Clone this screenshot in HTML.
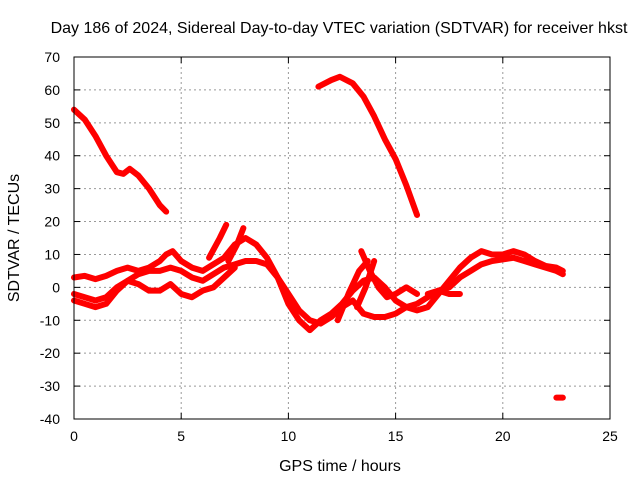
<!DOCTYPE html>
<html><head><meta charset="utf-8"><style>
body{margin:0;background:#fff;font-family:"Liberation Sans",sans-serif}
svg text{font-family:"Liberation Sans",sans-serif;font-size:14px;fill:#000}
svg text.big{font-size:16px}
</style></head><body>
<svg id="chart" width="640" height="480">
<text class="big" x="339" y="33" text-anchor="middle">Day 186 of 2024, Sidereal Day-to-day VTEC variation (SDTVAR) for receiver hkst</text>
<text class="big" x="340" y="471" text-anchor="middle">GPS time / hours</text>
<text class="big" transform="translate(19,238) rotate(-90)" text-anchor="middle">SDTVAR / TECUs</text>
<g id="grid"></g><g id="series"></g><g id="axes"></g>
</svg>
<script>
const xTicks=[0,5,10,15,20,25];
const yTicks=[-40,-30,-20,-10,0,10,20,30,40,50,60,70];
const arc1=[[0,54],[0.5,51],[1,46],[1.5,40],[2,35],[2.3,34.5],[2.6,36],[3,34],[3.5,30],[4,25],[4.3,23]];
const arc2=[[11.4,61],[12,63],[12.4,64],[13,62],[13.5,58],[14,52],[14.5,45],[15,39],[15.5,31],[16,22]];
const arc3=[[0,3],[0.5,3.5],[1,2.5],[1.5,3.5],[2,5],[2.5,6],[3,5],[3.5,6],[4,8],[4.3,10],[4.6,11],[5,8],[5.5,6],[6,5],[6.5,7],[7,9],[7.5,13],[8,15],[8.5,13],[9,9],[9.5,3],[10,-5],[10.5,-10],[11,-13],[11.5,-10],[12,-8],[12.5,-5],[13,-1],[13.5,2],[14,3],[14.5,0],[15,-4],[15.5,-6],[16,-7],[16.5,-6],[17,-2],[17.5,2],[18,6],[18.5,9],[19,11],[19.5,10],[20,10],[20.5,11],[21,10],[21.5,8],[22,6.5],[22.5,6],[22.8,5]];
const arc4=[[0,-2],[0.5,-3],[1,-4],[1.5,-3],[2,0],[2.5,2],[3,4],[3.5,5],[4,5],[4.5,6],[5,5],[5.5,3],[6,2],[6.5,4],[7,6],[7.5,7],[8,8],[8.5,8],[9,7],[9.5,3],[10,-2],[10.5,-7],[11,-10],[11.5,-11],[12,-9],[12.5,-6],[13,-4],[13.5,-8],[14,-9],[14.5,-9],[15,-8],[15.5,-6],[16,-5],[16.5,-3],[17,-1],[17.5,0],[18,3],[18.5,5],[19,7],[19.5,8],[20,8.5],[20.5,9],[21,8],[21.5,7],[22,6],[22.5,5],[22.8,4]];
const arc5=[[0,-4],[0.5,-5],[1,-6],[1.5,-5],[2,-1],[2.5,2],[3,1],[3.5,-1],[4,-1],[4.5,1],[5,-2],[5.5,-3],[6,-1],[6.5,0],[7,3],[7.5,6]];
const arc6=[[6.3,9],[6.8,15],[7.1,19]];
const arc7=[[7.2,8],[7.6,13],[7.9,18]];
const arc8=[[12.3,-10],[12.8,-2],[13.3,5],[13.7,8]];
const arc9=[[13.4,11],[13.8,5],[14.2,0],[14.6,-3],[15,-2],[15.5,0],[16,-2]];
const arc10=[[13.2,-6],[13.6,0],[14,8]];
const arc11=[[16.5,-2],[17,-1],[17.5,-2],[18,-2]];
const arc12=[[22.5,-33.5],[22.8,-33.5]];
const arcs=[arc1,arc2,arc3,arc4,arc5,arc6,arc7,arc8,arc9,arc10,arc11,arc12];
const X0=74,X1=610,Y0=419,Y1=57;
const xs=v=>X0+(v-0)/25*(X1-X0);
const ys=v=>Y0-(v+40)/110*(Y0-Y1);
const NS="http://www.w3.org/2000/svg";
const grid=document.getElementById('grid'),axes=document.getElementById('axes'),ser=document.getElementById('series');
function mk(t,a,p){const e=document.createElementNS(NS,t);for(const k in a)e.setAttribute(k,a[k]);p.appendChild(e);return e;}
xTicks.forEach(t=>{const x=xs(t);
 if(t>0&&t<25){const g=mk('line',{x1:x,x2:x,y1:Y1,y2:Y0,stroke:'#999','stroke-dasharray':'2,3'},grid);
 
 }
 const l=mk('text',{x:x,y:Y0+22,'text-anchor':'middle'},axes);l.textContent=t;
 
 
 mk('line',{x1:x,x2:x,y1:Y0,y2:Y0-6,stroke:'#000'},axes);mk('line',{x1:x,x2:x,y1:Y1,y2:Y1+6,stroke:'#000'},axes);});
yTicks.forEach(t=>{const y=ys(t);
 if(t>-40&&t<70){const g=mk('line',{x1:X0,x2:X1,y1:y,y2:y,stroke:'#999','stroke-dasharray':'2,3'},grid);
 
 }
 const l=mk('text',{x:X0-14,y:y+5,'text-anchor':'end'},axes);l.textContent=t;
 
 
 mk('line',{x1:X0,x2:X0+6,y1:y,y2:y,stroke:'#000'},axes);mk('line',{x1:X1,x2:X1-6,y1:y,y2:y,stroke:'#000'},axes);});
const fr=mk('rect',{x:X0,y:Y1,width:X1-X0,height:Y0-Y1,fill:'none',stroke:'#000'},axes);


arcs.forEach((a,i)=>{const p=mk('polyline',{points:a.map(d=>xs(d[0])+','+ys(d[1])).join(' '),fill:'none',stroke:'#f00','stroke-width':6,'stroke-linejoin':'round','stroke-linecap':'round'},ser);
 
 });
</script>
</body></html>
